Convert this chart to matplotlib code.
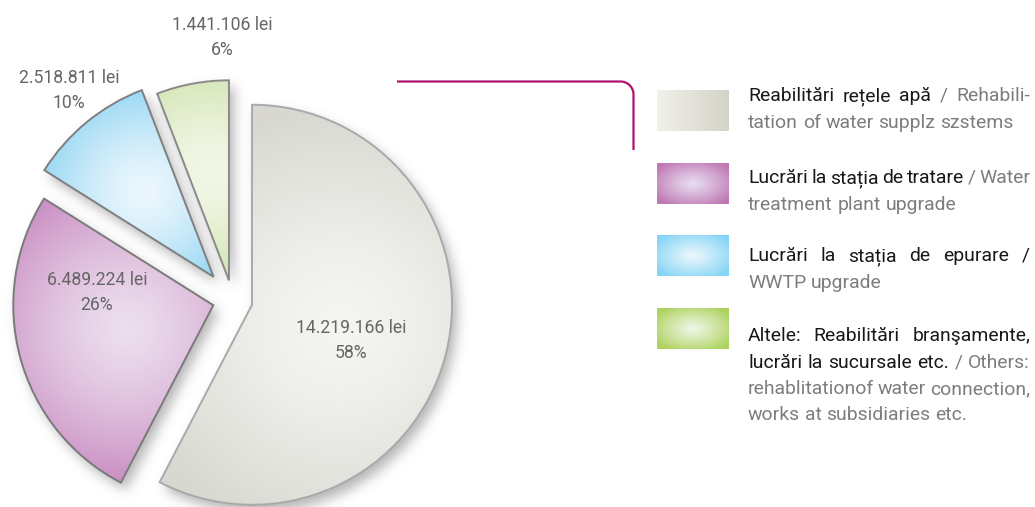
import numpy as np
import matplotlib
matplotlib.use("Agg")
import matplotlib.pyplot as plt
from matplotlib.colors import to_rgb

# ---------------- data ----------------
categories_ro = ["Reabilitări rețele apă",
                 "Lucrări la stația de tratare",
                 "Lucrări la stația de epurare",
                 "Altele: Reabilitări branşamente, lucrări la sucursale etc."]
categories_en = ["Rehabilitation of water supplz szstems",
                 "Water treatment plant upgrade",
                 "WWTP upgrade",
                 "Others: rehablitationof water connection, works at subsidiaries etc."]
values = [14219166, 6489224, 2518811, 1441106]
value_labels = ["14.219.166 lei", "6.489.224 lei", "2.518.811 lei", "1.441.106 lei"]
pct_labels = ["58%", "26%", "10%", "6%"]

# legend text as typeset lines ("|" separates Romanian part from English part)
legend_lines = [
    ["Reabilitări rețele apă|/ Rehabili-", "|tation of water supplz szstems"],
    ["Lucrări la stația de tratare|/ Water", "|treatment plant upgrade"],
    ["Lucrări la stația de epurare /|", "|WWTP upgrade"],
    ["Altele: Reabilitări branşamente,|", "lucrări la sucursale etc.|/ Others:",
     "|rehablitationof water connection,", "|works at subsidiaries etc."],
]

# ---------------- style ----------------
W, H = 1035, 507
FONT = ["Roboto", "DejaVu Sans"]
slice_cols = [("#f5f5f2", "#d8d8d1"), ("#ecdeee", "#c582bc"),
              ("#ecf7fd", "#86d1f2"), ("#f2f7e8", "#cde1a8")]
slice_edge = ["#a9a9a9", "#7a7a7a", "#7f7f7f", "#8a8a8a"]
swatch_cols = [("#f1f1eb", "#d3d3c7"), ("#e8def0", "#bf77b4"),
               ("#ecf7fc", "#84d4f6"), ("#f0f6e8", "#acd25c")]
explode_px = [20, 20, 30, 20]
label_col = "#666666"
black = "#1a1718"
grey = "#7d7d7d"

fig = plt.figure(figsize=(W / 100, H / 100), dpi=100)
ax = fig.add_axes([0, 0, 1, 1])
ax.set_xlim(0, W)
ax.set_ylim(0, H)
renderer = fig.canvas.get_renderer()


def text_w(s, fs):
    t = ax.text(0, 0, s, fontsize=fs, family=FONT)
    w = t.get_window_extent(renderer).width
    t.remove()
    return w


fs_leg = 10 * 265 / text_w("tation of water supplz szstems", 10)
fs_lab = 10 * 110 / text_w("14.219.166 lei", 10)

# ---------------- pie ----------------
R = 200
cx, cy = 232.6, H - 300
wedges, _ = ax.pie(values, startangle=90, counterclock=False, radius=R,
                   center=(cx, cy), explode=explode_px, frame=True,
                   wedgeprops=dict(linewidth=1.4))

# shadow (blurred mask of all wedges)
Xg, Yg = np.meshgrid(np.arange(W) + 0.5, np.arange(H) + 0.5)
mask = np.zeros((H, W))
for w in wedges:
    (wx, wy), r, t1, t2 = w.center, w.r, w.theta1, w.theta2
    d = np.hypot(Xg - wx, Yg - wy)
    ang = np.degrees(np.arctan2(Yg - wy, Xg - wx)) % 360
    inside = (d <= r) & (((ang - t1) % 360) <= (t2 - t1))
    mask[inside] = 1.0
sig = 6.0
kx = np.arange(-20, 21)
k = np.exp(-kx ** 2 / (2 * sig ** 2))
k /= k.sum()
blur = np.apply_along_axis(lambda m: np.convolve(m, k, "same"), 1, mask)
blur = np.apply_along_axis(lambda m: np.convolve(m, k, "same"), 0, blur)
shadow = np.zeros((H, W, 4))
shadow[..., :3] = 0.35
shadow[..., 3] = blur * 0.45
ax.imshow(shadow, extent=(5, W + 5, -7, H - 7), origin="lower", zorder=1,
          interpolation="bilinear")

# gradient fills clipped to wedges
for i, w in enumerate(wedges):
    (wx, wy), r, t1, t2 = w.center, w.r, w.theta1, w.theta2
    tm = np.radians((t1 + t2) / 2)
    frac = 0.45 if i < 2 else 0.55
    sx, sy = wx + frac * r * np.cos(tm), wy + frac * r * np.sin(tm)
    x0, x1 = int(wx - r - 2), int(wx + r + 2)
    y0, y1 = int(wy - r - 2), int(wy + r + 2)
    xs = np.arange(x0, x1) + 0.5
    ys = np.arange(y0, y1) + 0.5
    X, Y = np.meshgrid(xs, ys)
    spread = r * (1.1 if i == 0 else 0.85 if i == 1 else 0.6)
    t = np.clip(np.hypot(X - sx, Y - sy) / spread, 0, 1) ** 1.4
    cin, cout = np.array(to_rgb(slice_cols[i][0])), np.array(to_rgb(slice_cols[i][1]))
    img = cin * (1 - t)[..., None] + cout * t[..., None]
    im = ax.imshow(img, extent=(x0, x1, y0, y1), origin="lower", zorder=2,
                   interpolation="bilinear")
    im.set_clip_path(w)
    w.set_facecolor("none")
    w.set_edgecolor(slice_edge[i])
    w.set_zorder(3)

# value labels
label_base = [(351, 333), (97, 285), (69, 83), (222, 30)]
for i in range(len(values)):
    lx, ly = label_base[i]
    ax.text(lx, H - ly, value_labels[i], ha="center", va="baseline",
            fontsize=fs_lab, family=FONT, color=label_col, zorder=5)
    ax.text(lx, H - ly - 25, pct_labels[i], ha="center", va="baseline",
            fontsize=fs_lab, family=FONT, color=label_col, zorder=5)

# connector line
yl = H - 81.5
xc, rc, yend = 633.5, 13, H - 150
ta = np.radians(np.linspace(90, 0, 24))
lx_ = [397] + list(xc - rc + rc * np.cos(ta)) + [xc]
ly_ = [yl] + list(yl - rc + rc * np.sin(ta)) + [yend]
ax.plot(lx_, ly_, color="#b0126e", lw=1.6, solid_capstyle="butt", zorder=4)

# ---------------- legend ----------------
sw_x0, sw_w, sw_h = 657, 72, 41
sw_tops = [90, 163, 235.5, 308.5]
for i in range(len(categories_ro)):
    top = sw_tops[i]
    y0, y1 = H - top - sw_h, H - top
    xs = np.arange(sw_w) + 0.5
    ys = np.arange(sw_h) + 0.5
    X, Y = np.meshgrid(xs, ys)
    cin, cout = np.array(to_rgb(swatch_cols[i][0])), np.array(to_rgb(swatch_cols[i][1]))
    if i == 0:
        t = X / sw_w
    else:
        t = np.clip(np.hypot((X - sw_w / 2) / (sw_w / 2), (Y - sw_h / 2) / (sw_h / 2)) / 1.25, 0, 1) ** 1.1
    img = cin * (1 - t)[..., None] + cout * t[..., None]
    ax.imshow(img, extent=(sw_x0, sw_x0 + sw_w, y0, y1), origin="lower",
              zorder=2, interpolation="bilinear")

tx0, tx1 = 748, 1030
para_base = [101, 183, 261, 341]
line_gap = 26.5
space_w = text_w("a a", fs_leg) - text_w("aa", fs_leg)
for p, lines in enumerate(legend_lines):
    for j, line in enumerate(lines):
        ro, en = line.split("|")
        words = [(wd, black) for wd in ro.split()] + [(wd, grey) for wd in en.split()]
        widths = [text_w(wd, fs_leg) for wd, _ in words]
        justify = j < len(lines) - 1 and len(words) > 1
        gap = (tx1 - tx0 - sum(widths)) / (len(words) - 1) if justify else space_w
        x = tx0
        yb = H - (para_base[p] + j * line_gap)
        for (wd, col), wdw in zip(words, widths):
            ax.text(x, yb, wd, ha="left", va="baseline", fontsize=fs_leg,
                    family=FONT, color=col, zorder=5)
            x += wdw + gap

ax.set_xlim(0, W)
ax.set_ylim(0, H)
ax.set_aspect("auto")
ax.axis("off")
fig.savefig("out.png", dpi=100)
